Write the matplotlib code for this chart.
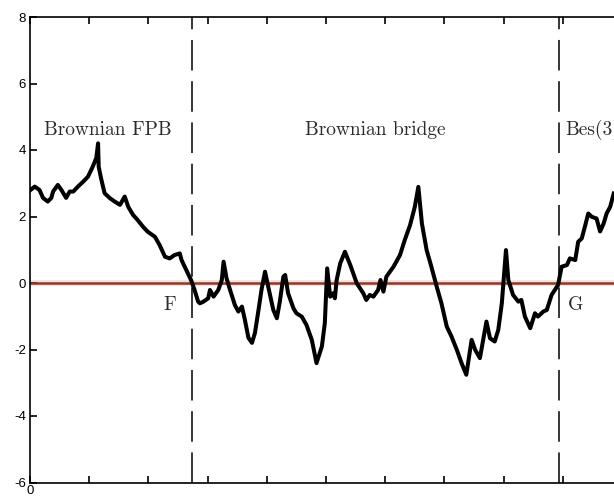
import matplotlib
matplotlib.use("Agg")
import matplotlib.pyplot as plt

# path (time in [0, 1], value)
t = [0.001, 0.008, 0.016, 0.022, 0.030, 0.036, 0.039, 0.047, 0.053, 0.061,
     0.067, 0.073, 0.081, 0.090, 0.098, 0.106, 0.112, 0.115, 0.116, 0.120,
     0.126, 0.135, 0.143, 0.152, 0.160, 0.166, 0.174, 0.182, 0.191, 0.199,
     0.211, 0.219, 0.228, 0.236, 0.244, 0.253, 0.256, 0.264, 0.272, 0.278,
     0.284, 0.287, 0.293, 0.301, 0.304, 0.310, 0.318, 0.324, 0.327, 0.332,
     0.338, 0.346, 0.352, 0.358, 0.363, 0.369, 0.375, 0.380, 0.386, 0.391,
     0.397, 0.403, 0.411, 0.417, 0.422, 0.428, 0.431, 0.436, 0.445, 0.450,
     0.459, 0.467, 0.476, 0.484, 0.493, 0.498, 0.502, 0.507, 0.512, 0.515,
     0.518, 0.524, 0.532, 0.541, 0.552, 0.563, 0.568, 0.574, 0.580, 0.588,
     0.592, 0.597, 0.602, 0.614, 0.625, 0.633, 0.642, 0.650, 0.656, 0.662,
     0.670, 0.678, 0.687, 0.695, 0.704, 0.712, 0.721, 0.729, 0.737, 0.746,
     0.752, 0.760, 0.771, 0.777, 0.785, 0.791, 0.797, 0.804, 0.808, 0.816,
     0.825, 0.830, 0.836, 0.845, 0.853, 0.858, 0.867, 0.873, 0.881, 0.892,
     0.898, 0.907, 0.912, 0.921, 0.926, 0.932, 0.938, 0.943, 0.949, 0.957,
     0.963, 0.969, 0.974, 0.980, 0.986]
x = [2.80, 2.90, 2.80, 2.56, 2.45, 2.56, 2.75, 2.95, 2.80, 2.56,
     2.75, 2.75, 2.90, 3.05, 3.20, 3.50, 3.76, 4.20, 3.50, 3.15,
     2.70, 2.55, 2.45, 2.35, 2.60, 2.29, 2.05, 1.89, 1.69, 1.54,
     1.39, 1.14, 0.79, 0.74, 0.84, 0.89, 0.69, 0.39, 0.09, -0.21,
     -0.56, -0.61, -0.56, -0.46, -0.21, -0.41, -0.21, 0.09, 0.64, 0.14,
     -0.21, -0.66, -0.86, -0.71, -1.11, -1.65, -1.80, -1.50, -0.81, -0.21,
     0.34, -0.16, -0.81, -1.06, -0.56, 0.19, 0.24, -0.31, -0.76, -0.91,
     -1.01, -1.26, -1.71, -2.41, -1.91, -1.21, 0.44, -0.41, -0.31, -0.46,
     0.09, 0.59, 0.94, 0.54, -0.01, -0.31, -0.51, -0.36, -0.41, -0.21,
     0.09, -0.26, 0.19, 0.49, 0.84, 1.29, 1.74, 2.29, 2.89, 1.79,
     0.99, 0.49, -0.11, -0.61, -1.31, -1.61, -2.01, -2.41, -2.76, -1.71,
     -2.01, -2.26, -1.16, -1.66, -1.76, -1.41, -0.61, 0.99, 0.09, -0.36,
     -0.56, -0.51, -1.01, -1.36, -0.91, -1.01, -0.86, -0.81, -0.36, -0.06,
     0.49, 0.54, 0.74, 0.69, 1.24, 1.34, 1.74, 2.09, 1.99, 1.94,
     1.55, 1.79, 2.09, 2.29, 2.69]

t_F, t_G = 0.2736, 0.8936
x_ticks = [0.0, 0.1, 0.2, 0.3, 0.4, 0.5, 0.6, 0.7, 0.8, 0.9, 1.0]
y_ticks = [-6, -4, -2, 0, 2, 4, 6, 8]

fig = plt.figure(figsize=(6.14, 4.97), dpi=100)
ax = fig.add_axes([30 / 614, 14.5 / 497, 592 / 614, 465.5 / 497])
ax.set_xlim(0, 1)
ax.set_ylim(-6, 8)

# zero line with its faint pink halo
ax.axhline(0, color="#f8dcd6", lw=4, zorder=1)
ax.axhline(0, color="#8c3a2e", lw=1.8, zorder=2)

for tv in (t_F, t_G):
    ax.axvline(tv, color="black", lw=1.1, linestyle=(0, (20, 7)), zorder=2)

ax.plot(t, x, color="black", lw=2.9, solid_joinstyle="round", zorder=3)

serif = "cmr10"
ink = "#2a2a2a"
ax.text(0.024, 4.6, "Brownian FPB", family=serif, fontsize=14,
        va="center", color=ink)
ax.text(0.583, 4.6, "Brownian bridge", family=serif, fontsize=14,
        ha="center", va="center", color=ink)
ax.text(0.905, 4.6, "Bes(3)", family=serif, fontsize=14, va="center",
        color=ink)
ax.text(0.236, -0.66, "F", family=serif, fontsize=14, ha="center",
        va="center", color=ink)
ax.text(0.921, -0.66, "G", family=serif, fontsize=14, ha="center",
        va="center", color=ink)

ax.set_xticks(x_ticks)
ax.set_xticklabels(["0"] + [""] * (len(x_ticks) - 1))
ax.set_yticks(y_ticks)
ax.set_yticklabels([str(v) for v in y_ticks])
ax.tick_params(direction="in", length=5, width=1.2, top=True, right=False,
               labelsize=9.5, pad=3)
ax.tick_params(axis="x", pad=1.5)
for lab in ax.get_xticklabels() + ax.get_yticklabels():
    lab.set_family(["Liberation Sans Narrow", "Liberation Sans", "DejaVu Sans"])
for side in ("left", "bottom", "top"):
    ax.spines[side].set_linewidth(1.2)
ax.spines["right"].set_visible(False)

fig.savefig("out.png", dpi=100)
